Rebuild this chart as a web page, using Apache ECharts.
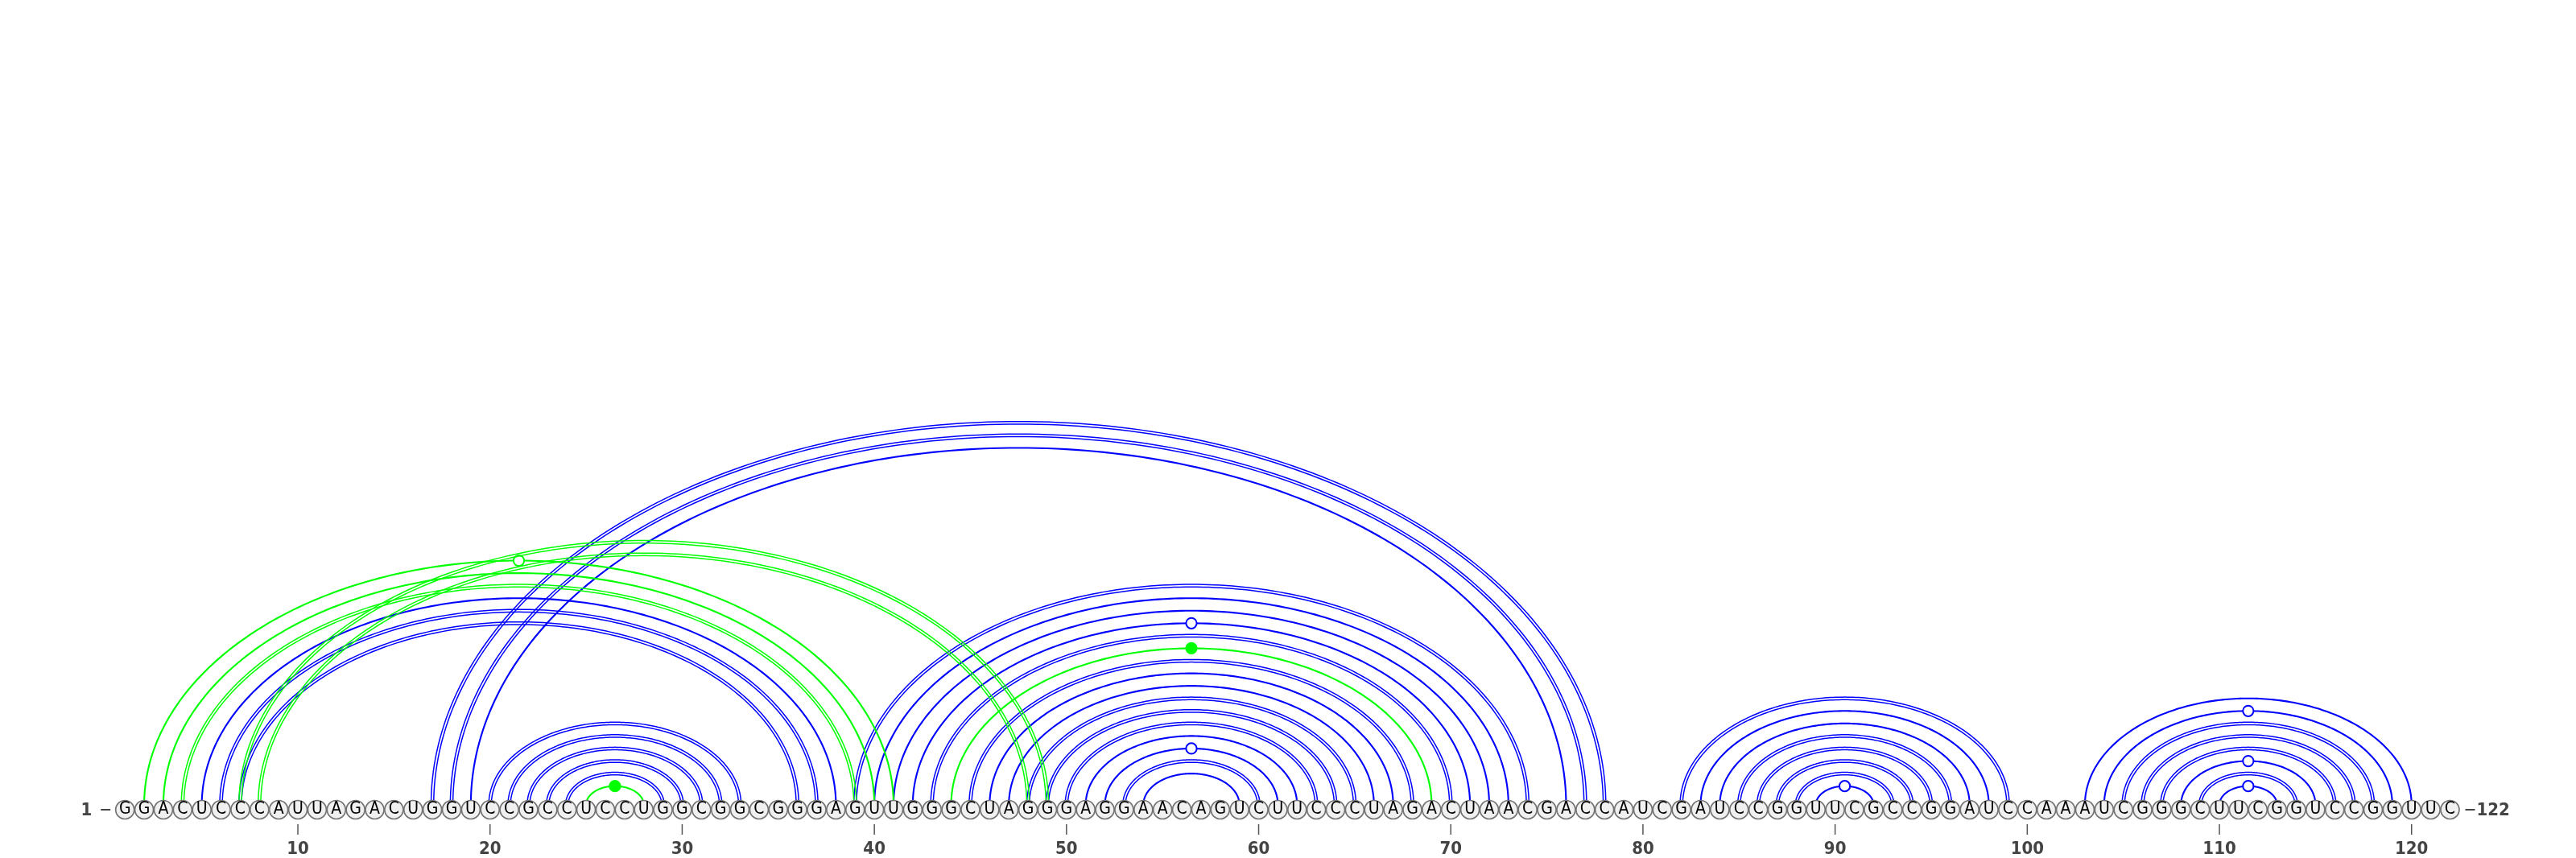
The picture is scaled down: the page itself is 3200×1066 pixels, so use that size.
<!DOCTYPE html>
<html>
<head>
<meta charset="utf-8">
<title>RNA arc diagram</title>
<script src="https://cdn.jsdelivr.net/npm/echarts@6/dist/echarts.min.js"></script>
<style>
  html, body { margin: 0; padding: 0; background: #fff; }
  #chart { width: 3200px; height: 1066px; }
</style>
</head>
<body>
<div id="chart"></div>
<script>
// sequence, 122 nt
var sequence = ('GGACUCCCAU' + 'UAGACUGGUC' + 'CGCCUCCUGG' + 'CGGCGGGAGU' +
                'UGGGCUAGGG' + 'AGGAACAGUC' + 'UUCCCUAGAC' + 'UAACGACCAU' +
                'CGAUCCGGUU' + 'CGCCGGAUCC' + 'AAAUCGGGCU' + 'UCGGUCCGGU' + 'UC').split('');

// base pairs of the first structure (blue)
var bluePairs = [
  [5, 38], [6, 37], [7, 36],
  [17, 78], [18, 77], [19, 76],
  [20, 33], [21, 32], [22, 31], [23, 30], [24, 29],
  [39, 74], [40, 73], [41, 72], [42, 71], [43, 70], [45, 68], [46, 67], [47, 66],
  [48, 65], [49, 64], [50, 63], [51, 62], [52, 61], [53, 60], [54, 59],
  [82, 99], [83, 98], [84, 97], [85, 96], [86, 95], [87, 94], [88, 93], [89, 92],
  [103, 120], [104, 119], [105, 118], [106, 117], [107, 116], [108, 115], [109, 114], [110, 113]
];

// base pairs of the second structure (green)
var greenPairs = [
  [2, 41], [3, 40], [4, 39], [7, 49], [8, 48], [25, 28], [44, 69]
];

var tickPositions = [10, 20, 30, 40, 50, 60, 70, 80, 90, 100, 110, 120];
var endLabels = [1, 122];

// layout: 1 unit on x = one nucleotide, y in px above the arc baseline
var NT_PX = 23.87, X_MIN = 1 - 155.2 / NT_PX, X_MAX = X_MIN + 3200 / NT_PX;
var ARC_RATIO = 0.652;
var NUC_Y = -6, TICK_TOP = -24, TICK_BOT = -37, LABEL_Y = -55;
var BLUE = '#0000ff', GREEN = '#00ff00', TEXT = '#444';
var NUM_FONT = 'DejaVu Sans Condensed';

function pairKind(a, b) {
  var s = a + b;
  if (s == 'GC' || s == 'CG') return 'gc';
  if (s == 'AU' || s == 'UA') return 'au';
  if (s == 'GU' || s == 'UG') return 'gu';
  return 'nc';
}

function halfEllipse(cx, y0, a, b) {
  var pts = [], n = 180;
  for (var k = 0; k <= n; k++) {
    var t = Math.PI - Math.PI * k / n;
    pts.push([cx + a * Math.cos(t), y0 - b * Math.sin(t)]);
  }
  return pts;
}

function arcRenderer(color) {
  return function (params, api) {
    var i = api.value(0), j = api.value(1);
    var p1 = api.coord([i, 0]), p2 = api.coord([j, 0]);
    var cx = (p1[0] + p2[0]) / 2, y0 = p1[1];
    var rx = (p2[0] - p1[0]) / 2, ry = rx * ARC_RATIO;
    var kind = pairKind(sequence[i - 1], sequence[j - 1]);
    var offs = kind == 'gc' ? [-1.6, 1.6] : [0];
    var children = [];
    offs.forEach(function (d) {
      children.push({
        type: 'polyline',
        shape: { points: halfEllipse(cx, y0, rx + d, ry + d) },
        style: { fill: null, stroke: color, lineWidth: kind == 'gc' ? 1.5 : 2.1 }
      });
    });
    if (kind == 'gu' || kind == 'nc') {
      children.push({
        type: 'circle',
        shape: { cx: cx, cy: y0 - ry, r: 6.6 },
        style: { fill: kind == 'gu' ? '#fff' : color, stroke: color, lineWidth: 2 }
      });
    }
    return { type: 'group', children: children };
  };
}

var myChart = echarts.init(document.getElementById('chart'), null, { renderer: 'canvas' });

var option = {
  animation: false,
  backgroundColor: '#fff',
  grid: { left: 0, right: 0, top: 0, bottom: 0 },
  xAxis: { type: 'value', min: X_MIN, max: X_MAX, show: false },
  yAxis: { type: 'value', min: -66, max: 1000, show: false },
  series: [
    {
      name: 'structure 1',
      type: 'custom',
      silent: true,
      z: 1,
      data: bluePairs,
      renderItem: arcRenderer(BLUE)
    },
    {
      name: 'structure 2',
      type: 'custom',
      silent: true,
      z: 2,
      data: greenPairs,
      renderItem: arcRenderer(GREEN)
    },
    {
      name: 'sequence',
      type: 'scatter',
      silent: true,
      z: 5,
      data: sequence.map(function (b, k) { return { name: b, value: [k + 1, NUC_Y] }; }),
      symbol: 'circle',
      symbolSize: 23,
      itemStyle: { color: '#f0f0f0', borderColor: '#737373', borderWidth: 1.7, opacity: 1 },
      label: {
        show: true, position: 'inside', formatter: '{b}',
        color: '#000', fontSize: 21, fontFamily: NUM_FONT
      }
    },
    {
      name: 'ticks',
      type: 'custom',
      silent: true,
      z: 5,
      data: tickPositions,
      renderItem: function (params, api) {
        var n = api.value(0);
        var a = api.coord([n, TICK_TOP]), b = api.coord([n, TICK_BOT]), c = api.coord([n, LABEL_Y]);
        return {
          type: 'group',
          children: [
            { type: 'line', shape: { x1: a[0], y1: a[1], x2: b[0], y2: b[1] },
              style: { stroke: '#555', lineWidth: 1.5 } },
            { type: 'text', style: { x: c[0], y: c[1], text: String(n), align: 'center',
              verticalAlign: 'middle', fill: TEXT, font: 'bold 22px "' + NUM_FONT + '"' } }
          ]
        };
      }
    },
    {
      name: 'ends',
      type: 'custom',
      silent: true,
      z: 5,
      data: endLabels,
      renderItem: function (params, api) {
        var n = api.value(0);
        var p = api.coord([n, NUC_Y]);
        var left = params.dataIndex == 0;
        var dx1 = left ? -30 : 19, dx2 = left ? -18 : 31;
        return {
          type: 'group',
          children: [
            { type: 'line', shape: { x1: p[0] + dx1, y1: p[1], x2: p[0] + dx2, y2: p[1] },
              style: { stroke: TEXT, lineWidth: 2 } },
            { type: 'text', style: { x: left ? p[0] - 41 : p[0] + 33, y: p[1] + 1, text: String(n),
              align: left ? 'right' : 'left', verticalAlign: 'middle', fill: TEXT,
              font: 'bold 22px "' + NUM_FONT + '"' } }
          ]
        };
      }
    }
  ]
};

myChart.setOption(option);
</script>
</body>
</html>
